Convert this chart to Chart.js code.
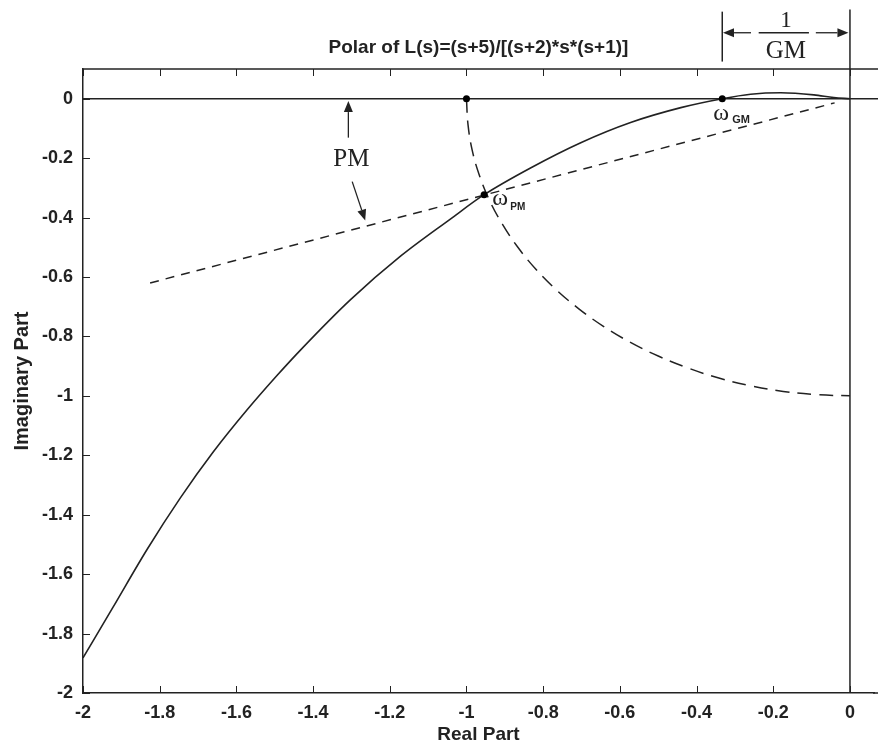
<!DOCTYPE html>
<html><head><meta charset="utf-8">
<script src="https://cdn.jsdelivr.net/npm/chart.js@4.4.1/dist/chart.umd.min.js"></script>
<style>html,body{margin:0;padding:0;background:#fff;}canvas{display:block;}</style>
</head><body>
<canvas id="c" width="878" height="747"></canvas>
<script>
// ---- data ----
const xTicks = [-2, -1.8, -1.6, -1.4, -1.2, -1, -0.8, -0.6, -0.4, -0.2, 0];
const xTickLabels = ['-2', '-1.8', '-1.6', '-1.4', '-1.2', '-1', '-0.8', '-0.6', '-0.4', '-0.2', '0'];
const yTicks = [-2, -1.8, -1.6, -1.4, -1.2, -1, -0.8, -0.6, -0.4, -0.2, 0];
const yTickLabels = ['-2', '-1.8', '-1.6', '-1.4', '-1.2', '-1', '-0.8', '-0.6', '-0.4', '-0.2', '0'];

// Nyquist (polar) curve of L(jw)
const nyquistRe = [-2.000, -1.922, -1.833, -1.747, -1.661, -1.572, -1.493, -1.433, -1.303, -1.172, -1.042, -0.954, -0.833, -0.702, -0.572, -0.441, -0.333, -0.259, -0.180, -0.094, -0.042, 0.000];
const nyquistIm = [-1.882, -1.712, -1.517, -1.345, -1.190, -1.047, -0.930, -0.846, -0.677, -0.530, -0.405, -0.323, -0.233, -0.148, -0.080, -0.030, 0.000, 0.015, 0.020, 0.013, 0.004, 0.000];

// dashed unit-circle arc
const arcRe = [-1.000, -0.996, -0.985, -0.966, -0.940, -0.906, -0.866, -0.819, -0.766, -0.707, -0.643, -0.574, -0.500, -0.423, -0.342, -0.259, -0.174, -0.087, 0.000];
const arcIm = [0.000, -0.087, -0.174, -0.259, -0.342, -0.423, -0.500, -0.574, -0.643, -0.707, -0.766, -0.819, -0.866, -0.906, -0.940, -0.966, -0.985, -0.996, -1.000];

// dashed phase-margin ray
const pmRayRe = [-1.825, -0.040];
const pmRayIm = [-0.620, -0.014];

// real and imaginary axis lines
const realAxisRe = [-2, 0.0757];
const realAxisIm = [0, 0];
const imagAxisRe = [0, 0];
const imagAxisIm = [-2, 0.30];

// left bar of the 1/GM dimension
const gmBarRe = [-0.333, -0.333];
const gmBarIm = [0.125, 0.293];

// marked points: -1, w_GM, w_PM
const markRe = [-1.000, -0.333, -0.954];
const markIm = [0.000, 0.000, -0.323];

// ---- annotations (data coordinates) ----
const arrows = [
  {from: [-1.308, -0.131], to: [-1.308, -0.008]},
  {from: [-1.298, -0.279], to: [-1.264, -0.410]},
  {from: [-0.258, 0.222], to: [-0.331, 0.222]},
  {from: [-0.089, 0.222], to: [-0.004, 0.222]}
];
const plainLines = [ {from: [-0.238, 0.222], to: [-0.107, 0.222]} ];
const texts = [
  {t: 'PM', x: -1.300, y: -0.205, font: '25px "Liberation Serif"'},
  {t: '1', x: -0.167, y: 0.263, font: '23px "Liberation Serif"'},
  {t: 'GM', x: -0.167, y: 0.158, font: '25px "Liberation Serif"'},
  {t: 'ω', x: -0.912, y: -0.338, font: '24px "Liberation Serif"'},
  {t: 'PM', x: -0.866, y: -0.365, font: 'bold 10px "Liberation Sans"'},
  {t: 'ω', x: -0.336, y: -0.052, font: '24px "Liberation Serif"'},
  {t: 'GM', x: -0.284, y: -0.073, font: 'bold 11px "Liberation Sans"'}
];

const pts = (xs, ys) => xs.map((x, i) => ({x: x, y: ys[i]}));
const INK = '#222';
const SANS = '"Liberation Sans", Arial, sans-serif';

const annot = {
  id: 'annot',
  afterDraw(chart) {
    const ctx = chart.ctx, xs = chart.scales.x, ys = chart.scales.y, a = chart.chartArea;
    const P = (p) => [xs.getPixelForValue(p[0]), ys.getPixelForValue(p[1])];
    ctx.save();
    ctx.strokeStyle = INK; ctx.fillStyle = INK;
    // top frame line (continues to the cropped right edge)
    ctx.lineWidth = 1.5;
    ctx.beginPath(); ctx.moveTo(a.left, a.top); ctx.lineTo(xs.getPixelForValue(realAxisRe[1]), a.top); ctx.stroke();
    // bottom frame continues too
    ctx.beginPath(); ctx.moveTo(a.right - 1, a.bottom); ctx.lineTo(xs.getPixelForValue(realAxisRe[1]), a.bottom); ctx.stroke();
    ctx.lineWidth = 1;
    xTicks.forEach(v => {
      const px = Math.round(xs.getPixelForValue(v)) + 0.5;
      ctx.beginPath(); ctx.moveTo(px, a.bottom); ctx.lineTo(px, a.bottom - 7); ctx.stroke();
      ctx.beginPath(); ctx.moveTo(px, a.top); ctx.lineTo(px, a.top + 7); ctx.stroke();
    });
    yTicks.forEach(v => {
      const py = Math.round(ys.getPixelForValue(v)) + 0.5;
      ctx.beginPath(); ctx.moveTo(a.left, py); ctx.lineTo(a.left + 7, py); ctx.stroke();
    });
    ctx.lineWidth = 1.3;
    arrows.forEach(ar => {
      const [x1, y1] = P(ar.from), [x2, y2] = P(ar.to);
      const ang = Math.atan2(y2 - y1, x2 - x1), L = 11, W = 4.5;
      const bx = x2 - L * Math.cos(ang), by = y2 - L * Math.sin(ang);
      ctx.beginPath(); ctx.moveTo(x1, y1); ctx.lineTo(bx, by); ctx.stroke();
      ctx.beginPath();
      ctx.moveTo(x2, y2);
      ctx.lineTo(bx + W * Math.sin(ang), by - W * Math.cos(ang));
      ctx.lineTo(bx - W * Math.sin(ang), by + W * Math.cos(ang));
      ctx.closePath(); ctx.fill();
    });
    plainLines.forEach(l => {
      const [x1, y1] = P(l.from), [x2, y2] = P(l.to);
      ctx.beginPath(); ctx.moveTo(x1, y1); ctx.lineTo(x2, y2); ctx.stroke();
    });
    ctx.textAlign = 'center'; ctx.textBaseline = 'middle';
    texts.forEach(t => {
      const [x, y] = P([t.x, t.y]);
      ctx.font = t.font; ctx.fillText(t.t, x, y);
    });
    ctx.restore();
  }
};

const lineDs = (data, extra) => Object.assign({
  data: data, showLine: true, pointRadius: 0, borderColor: INK, borderWidth: 1.5,
  backgroundColor: INK, fill: false, tension: 0
}, extra || {});

new Chart(document.getElementById('c'), {
  type: 'scatter',
  data: {
    datasets: [
      lineDs(pts(markRe, markIm), {showLine: false, pointRadius: 3.5, pointBackgroundColor: '#000', pointBorderWidth: 0}),
      lineDs(pts(nyquistRe, nyquistIm), {cubicInterpolationMode: 'monotone', borderWidth: 1.6}),
      lineDs(pts(arcRe, arcIm), {tension: 0.4, borderDash: [14, 8], borderWidth: 1.5}),
      lineDs(pts(pmRayRe, pmRayIm), {borderDash: [9, 7], borderWidth: 1.5}),
      lineDs(pts(realAxisRe, realAxisIm), {borderWidth: 1.5, clip: false}),
      lineDs(pts(imagAxisRe, imagAxisIm), {borderWidth: 1.5, clip: false}),
      lineDs(pts(gmBarRe, gmBarIm), {borderWidth: 1.5, clip: false})
    ]
  },
  options: {
    responsive: false, animation: false, devicePixelRatio: 1,
    layout: {padding: {top: 34, left: 0, right: 0, bottom: 0}},
    plugins: {
      legend: {display: false}, tooltip: {enabled: false},
      title: {
        display: true, fullSize: false,
        text: 'Polar of L(s)=(s+5)/[(s+2)*s*(s+1)]',
        color: INK, font: {family: SANS, size: 19, weight: 'bold'},
        padding: {top: 2.5, bottom: 9.7}
      }
    },
    scales: {
      x: {
        type: 'linear', min: -2, max: 0.0627,
        afterBuildTicks: s => { s.ticks = xTicks.map(v => ({value: v})); },
        afterFit: s => { s.height = 54; s.paddingRight = 0; s.paddingLeft = 0; },
        grid: {display: false, drawTicks: false},
        border: {display: true, color: INK, width: 1.5},
        ticks: {autoSkip: false, maxRotation: 0, padding: 9, color: INK,
          font: {family: SANS, size: 18, weight: 'bold'},
          callback: (v, i) => xTickLabels[i]},
        title: {display: true, text: 'Real Part', color: INK,
          font: {family: SANS, size: 19, weight: 'bold'},
          padding: {top: 0, bottom: 0.6}}
      },
      y: {
        type: 'linear', min: -2, max: 0.1,
        afterBuildTicks: s => { s.ticks = yTicks.map(v => ({value: v})); },
        afterFit: s => { s.width = 83; },
        grid: {display: false, drawTicks: false},
        border: {display: true, color: INK, width: 1.5},
        ticks: {autoSkip: false, padding: 10, color: INK,
          font: {family: SANS, size: 18, weight: 'bold'},
          callback: (v, i) => yTickLabels[i]},
        title: {display: true, text: 'Imaginary Part', color: INK,
          font: {family: SANS, size: 20, weight: 'bold'},
          padding: {top: 10, bottom: 0}}
      }
    }
  },
  plugins: [annot]
});
</script>
</body></html>
